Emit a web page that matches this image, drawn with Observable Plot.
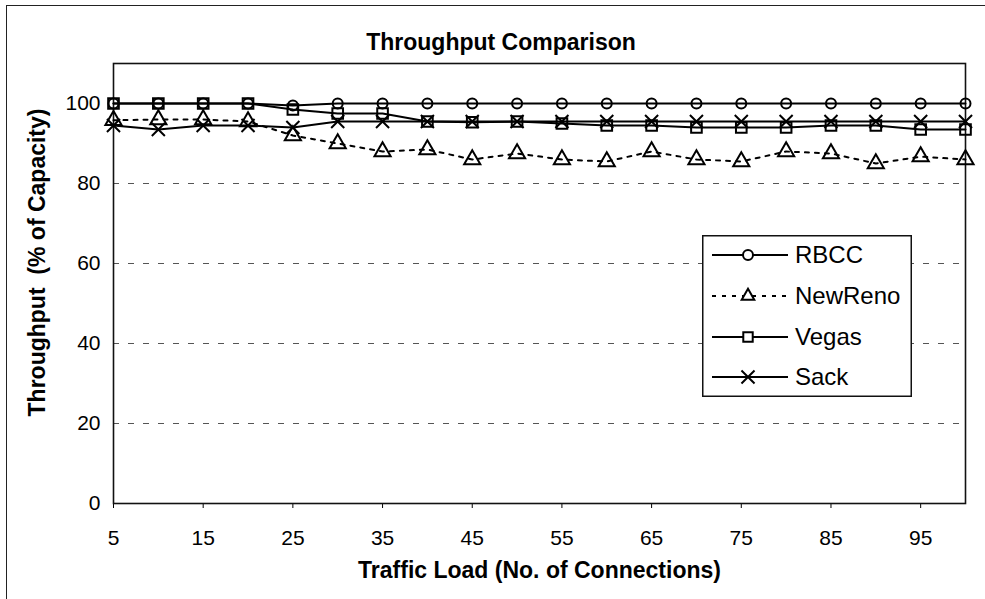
<!DOCTYPE html>
<html>
<head>
<meta charset="utf-8">
<script src="https://cdn.jsdelivr.net/npm/d3@7"></script>
<script src="https://cdn.jsdelivr.net/npm/@observablehq/plot@0.6"></script>
<style>
  body { margin: 0; background: #fff; font-family: "Liberation Sans", Arial, sans-serif; }
  #wrap { position: relative; width: 985px; height: 599px; overflow: hidden; background: #fff; }
  #border { position: absolute; left: 6px; top: 5px; width: 1200px; height: 800px;
            border-left: 1.5px solid #222; border-top: 1.5px solid #222; pointer-events: none; }
  #title { position: absolute; left: 0; top: 30px; width: 1002px; text-align: center;
           font-size: 23px; line-height: 24px; font-weight: bold; color: #000; }
  #chart { position: absolute; left: 0; top: 0; }
  #legend { position: absolute; left: 702px; top: 235px; }
</style>
</head>
<body>
<div id="wrap">
  <div id="chart"></div>
  <div id="border"></div>
  <div id="title">Throughput Comparison</div>
  <div id="legend"></div>
</div>
<script>
// ---- data ----
const loads = [5, 10, 15, 20, 25, 30, 35, 40, 45, 50, 55, 60, 65, 70, 75, 80, 85, 90, 95, 100];
const rbcc    = [100, 100, 100, 100, 99.5, 100, 100, 100, 100, 100, 100, 100, 100, 100, 100, 100, 100, 100, 100, 100];
const newReno = [95.8, 96, 96, 95.5, 92, 90, 88, 88.5, 86, 87.5, 86, 85.5, 88, 86, 85.5, 88, 87.5, 85, 86.7, 86];
const vegas   = [100, 100, 100, 100, 98.5, 97.5, 97.5, 95.5, 95.3, 95.5, 95, 94.5, 94.5, 94, 94, 94, 94.5, 94.5, 93.5, 93.5];
const sack    = [94.5, 93.5, 94.5, 94.5, 94, 95.5, 95.5, 95.5, 95.5, 95.5, 95.5, 95.5, 95.5, 95.5, 95.5, 95.5, 95.5, 95.5, 95.5, 95.5];
const seriesNames = ["RBCC", "NewReno", "Vegas", "Sack"];
const xTicks = [5, 15, 25, 35, 45, 55, 65, 75, 85, 95];
const yTicks = [0, 20, 40, 60, 80, 100];
const gridValues = [20, 40, 60, 80];
const xTitle = "Traffic Load (No. of Connections)";
const yTitle = "Throughput  (% of Capacity)";

const series = [
  {name: seriesNames[0], values: rbcc,    symbol: "circle",   r: 5,   dash: null},
  {name: seriesNames[1], values: newReno, symbol: "triangle", r: 6,   dash: "4,6"},
  {name: seriesNames[2], values: vegas,   symbol: "square",   r: 6,   dash: null},
  {name: seriesNames[3], values: sack,    symbol: "times",    r: 6,   dash: null}
];

const rows = series.flatMap(s => loads.map((x, i) => ({series: s.name, load: x, value: s.values[i]})));

const lineMarks = series.map(s => Plot.line(rows.filter(d => d.series === s.name), {
  x: "load", y: "value", stroke: "#000", strokeWidth: 2,
  strokeDasharray: s.dash || undefined
}));
const dotMarks = series.map(s => Plot.dot(rows.filter(d => d.series === s.name), {
  x: "load", y: "value", symbol: () => s.symbol, r: s.r,
  stroke: "#000", strokeWidth: 2, fill: "none"
}));

const chart = Plot.plot({
  width: 985, height: 599,
  marginTop: 63, marginBottom: 96, marginLeft: 113, marginRight: 20,
  style: {fontFamily: '"Liberation Sans", Arial, sans-serif', color: "#000", background: "transparent"},
  x: {domain: [5, 100]},
  y: {domain: [0, 110]},
  symbol: {type: "identity"},
  marks: [
    Plot.ruleY(gridValues, {stroke: "#555", strokeDasharray: "6,9", strokeWidth: 1}),
    Plot.axisY(yTicks, {tickSize: 0, tickPadding: 13, fontSize: 21, label: null}),
    Plot.axisX(xTicks, {tickSize: 5, tickPadding: 22, fontSize: 21, label: null}),
    Plot.frame({stroke: "#111", strokeWidth: 1.6}),
    ...lineMarks,
    ...dotMarks,
    Plot.text([yTitle], {frameAnchor: "left", dx: -76, dy: -21, rotate: -90,
      textAnchor: "middle", lineAnchor: "middle",
      fontSize: 23, fontWeight: "bold", fill: "#000"}),
    Plot.text([xTitle], {frameAnchor: "bottom", dy: 67, lineAnchor: "middle",
      fontSize: 23, fontWeight: "bold", fill: "#000"})
  ]
});
document.getElementById("chart").appendChild(chart);

// ---- legend ----
const symMap = {circle: d3.symbolCircle, triangle: d3.symbolTriangle2, square: d3.symbolSquare2, times: d3.symbolTimes};
const lw = 210, lh = 162;
const lsvg = d3.select("#legend").append("svg").attr("width", lw).attr("height", lh)
  .style("font-family", '"Liberation Sans", Arial, sans-serif');
lsvg.append("rect").attr("x", 0.75).attr("y", 0.75).attr("width", lw - 1.5).attr("height", lh - 1.5)
  .attr("fill", "#fff").attr("stroke", "#111").attr("stroke-width", 1.5);
const rowY = [20, 61, 102, 142];
series.forEach((s, i) => {
  const g = lsvg.append("g").attr("transform", `translate(0,${rowY[i]})`);
  g.append("line").attr("x1", 10).attr("x2", 86).attr("y1", 0).attr("y2", 0)
    .attr("stroke", "#000").attr("stroke-width", 2)
    .attr("stroke-dasharray", s.dash);
  if (s.symbol === "circle") {
    g.append("circle").attr("cx", 46).attr("cy", 0).attr("r", s.r)
      .attr("fill", "#fff").attr("stroke", "#000").attr("stroke-width", 2);
  } else {
    g.append("path").attr("transform", "translate(46,0)")
      .attr("d", d3.symbol(symMap[s.symbol], s.r * s.r * Math.PI)())
      .attr("fill", s.symbol === "times" ? "none" : "#fff").attr("stroke", "#000").attr("stroke-width", 2);
  }
  g.append("text").attr("x", 93).attr("y", 0).attr("dy", "0.35em")
    .attr("font-size", 24).attr("fill", "#000").text(s.name);
});
</script>
</body>
</html>
